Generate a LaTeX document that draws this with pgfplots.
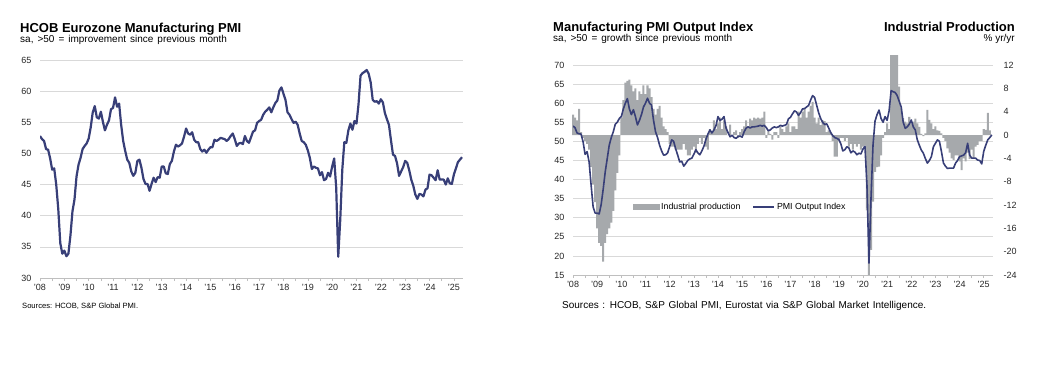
\documentclass[border=0pt]{standalone}
\usepackage{pgfplots}
\pgfplotsset{compat=1.18}
\usepackage{pgfplotstable}
\usepackage{fontspec}
\setmainfont{Liberation Sans}
\definecolor{navy}{HTML}{383F78}
\definecolor{bargray}{HTML}{A6A9AC}
\definecolor{gridgray}{HTML}{D9D9D9}
\definecolor{axgray}{HTML}{BFBFBF}
\newcommand\fs[1]{\fontsize{#1}{#1}\selectfont}

% HCOB Eurozone Manufacturing PMI, Jan 2008 - May 2025
\pgfplotstableread[row sep=\\]{v\\
52.8\\52.3\\52.0\\50.7\\50.6\\49.2\\47.4\\47.6\\45.0\\41.1\\35.6\\33.9\\
34.4\\33.5\\33.9\\36.8\\40.7\\42.6\\46.3\\48.2\\49.3\\50.7\\51.2\\51.6\\
52.4\\54.2\\56.6\\57.6\\55.8\\55.6\\56.7\\55.1\\53.7\\54.6\\55.3\\57.1\\
57.3\\59.0\\57.5\\58.0\\54.6\\52.0\\50.4\\49.0\\48.5\\47.1\\46.4\\46.9\\
48.8\\49.0\\47.7\\45.9\\45.1\\45.1\\44.0\\45.1\\46.1\\45.4\\46.2\\46.1\\
47.9\\47.9\\46.8\\46.7\\48.3\\48.8\\50.3\\51.4\\51.1\\51.3\\51.6\\52.7\\
54.0\\53.2\\53.0\\53.4\\52.2\\51.8\\51.8\\50.7\\50.3\\50.6\\50.1\\50.6\\
51.0\\51.0\\52.2\\52.0\\52.2\\52.5\\52.4\\52.3\\52.0\\52.3\\52.8\\53.2\\
52.3\\51.2\\51.6\\51.7\\51.5\\52.8\\52.0\\51.7\\52.6\\53.5\\53.7\\54.9\\
55.2\\55.4\\56.2\\56.7\\57.0\\57.4\\56.6\\57.4\\58.1\\58.5\\60.1\\60.6\\
59.6\\58.6\\56.6\\56.2\\55.5\\54.9\\55.1\\54.6\\53.2\\52.0\\51.8\\51.4\\
50.5\\49.3\\47.5\\47.9\\47.7\\47.6\\46.5\\47.0\\45.7\\45.9\\46.9\\46.3\\
47.9\\49.2\\44.5\\33.4\\39.4\\47.4\\51.8\\51.7\\53.7\\54.8\\53.8\\55.2\\
54.8\\57.9\\62.5\\62.9\\63.1\\63.4\\62.8\\61.4\\58.6\\58.3\\58.4\\58.0\\
58.7\\58.2\\56.5\\55.5\\54.6\\52.1\\49.8\\49.6\\48.4\\46.4\\47.1\\47.8\\
48.8\\48.5\\47.3\\45.8\\44.8\\43.4\\42.7\\43.5\\43.4\\43.1\\44.2\\44.4\\
46.6\\46.5\\46.1\\45.7\\47.3\\45.8\\45.8\\45.8\\45.0\\46.0\\45.2\\45.1\\
46.6\\47.6\\48.6\\49.0\\49.4\\
}\pmiL

% Manufacturing PMI Output Index, Jan 2008 - May 2025
\pgfplotstableread[row sep=\\]{v\\
54.0\\53.6\\52.2\\52.0\\51.9\\49.9\\46.6\\47.3\\44.6\\38.5\\32.8\\31.2\\
31.2\\31.0\\33.5\\37.5\\42.0\\45.5\\49.0\\51.0\\52.5\\54.5\\55.0\\56.0\\
56.5\\58.5\\60.0\\61.2\\58.5\\57.0\\58.3\\56.5\\54.3\\55.5\\57.0\\59.0\\
60.0\\61.3\\60.0\\59.5\\55.5\\52.5\\51.0\\49.0\\47.5\\46.4\\46.5\\47.0\\
48.6\\50.4\\50.0\\48.0\\46.4\\44.6\\44.8\\43.5\\44.2\\45.0\\45.4\\45.6\\
46.6\\47.8\\47.0\\46.5\\47.5\\48.7\\50.5\\51.9\\53.0\\52.2\\53.0\\54.1\\
56.5\\55.5\\55.8\\56.5\\53.5\\52.3\\51.2\\51.6\\51.0\\50.8\\51.3\\51.4\\
51.1\\52.5\\53.5\\53.8\\53.5\\53.8\\53.8\\53.9\\54.0\\54.2\\54.0\\54.2\\
53.6\\52.8\\53.0\\53.5\\53.8\\53.6\\53.8\\54.2\\54.0\\54.2\\54.4\\55.9\\
56.3\\57.2\\58.0\\57.7\\56.8\\57.5\\58.5\\58.6\\59.0\\59.4\\60.8\\62.0\\
61.5\\59.5\\57.5\\56.0\\55.0\\54.4\\54.6\\53.5\\52.3\\51.5\\51.0\\50.8\\
50.5\\49.4\\47.5\\47.8\\48.6\\48.3\\47.0\\47.5\\47.2\\46.5\\46.9\\46.7\\
48.0\\48.7\\38.5\\18.1\\35.0\\49.0\\55.3\\57.0\\58.2\\56.0\\55.0\\56.5\\
55.5\\58.0\\63.3\\63.0\\62.8\\62.0\\60.5\\59.0\\55.0\\53.4\\53.8\\54.5\\
55.6\\53.8\\53.0\\50.4\\49.0\\47.7\\46.9\\45.5\\44.3\\45.0\\46.0\\48.6\\
49.5\\50.4\\50.0\\47.3\\44.3\\43.5\\42.9\\43.0\\43.0\\43.0\\44.3\\45.0\\
46.0\\46.2\\46.4\\47.0\\49.5\\46.4\\45.6\\45.6\\45.6\\45.1\\45.0\\44.1\\
47.4\\49.0\\50.4\\51.0\\51.7\\
}\pmiR

% Industrial production, % yr/yr, Jan 2008 - Apr 2025
\pgfplotstableread[row sep=\\]{v\\
3.5\\3.0\\2.5\\4.5\\0.5\\-0.5\\-1.0\\-1.5\\-2.5\\-5.5\\-8.5\\-11.5\\
-16.0\\-18.5\\-19.0\\-21.7\\-18.5\\-17.0\\-16.0\\-15.0\\-13.0\\-9.5\\-6.5\\-3.5\\
3.0\\6.0\\9.0\\9.3\\9.5\\8.5\\7.5\\8.0\\6.0\\7.5\\7.0\\8.5\\
7.0\\8.5\\8.0\\6.5\\4.5\\3.5\\4.5\\5.0\\3.0\\1.5\\1.0\\0.5\\
-1.5\\-2.0\\-2.0\\-2.5\\-2.5\\-2.5\\-2.5\\-1.5\\-2.5\\-3.5\\-3.5\\-2.5\\
-2.0\\-3.0\\-1.5\\-0.5\\-1.5\\-0.5\\-2.0\\-2.5\\1.0\\0.5\\2.5\\1.0\\
2.0\\3.0\\1.0\\2.5\\1.5\\0.0\\1.8\\0.0\\0.5\\0.8\\-0.5\\0.5\\
1.0\\1.5\\2.5\\1.5\\2.8\\2.5\\3.0\\2.8\\3.0\\2.8\\3.0\\4.0\\
-0.5\\0.8\\0.2\\-0.8\\0.5\\0.5\\-0.5\\1.5\\1.0\\0.5\\1.5\\2.0\\
0.5\\1.5\\1.5\\1.0\\4.0\\3.0\\4.0\\4.5\\3.0\\4.0\\5.0\\5.7\\
3.0\\2.0\\3.0\\1.7\\2.5\\2.4\\0.5\\0.8\\0.5\\-1.0\\-3.7\\-3.7\\
-1.0\\-0.5\\-0.5\\-1.0\\-0.5\\-2.0\\-1.5\\-2.5\\-1.5\\-2.0\\-1.5\\-2.5\\
-2.0\\-1.8\\-12.9\\-24.0\\-19.7\\-11.4\\-6.3\\-5.5\\-5.4\\-3.5\\-0.5\\0.5\\
2.0\\1.0\\13.7\\13.7\\13.7\\13.7\\8.3\\4.6\\2.9\\2.3\\2.0\\3.1\\
2.0\\2.3\\2.8\\2.0\\1.4\\0.2\\-0.2\\0.3\\4.3\\2.6\\2.0\\1.0\\
1.5\\0.8\\0.7\\0.3\\-0.5\\-1.0\\-2.3\\-3.0\\-4.0\\-4.3\\-3.5\\-3.5\\
-4.5\\-6.0\\-4.0\\-4.5\\-3.0\\-4.1\\-2.5\\-4.0\\-2.0\\-1.7\\-1.0\\-1.0\\
1.0\\0.9\\3.8\\0.8\\
}\ipT

\pgfplotsset{
  base/.style={
    scale only axis, anchor=south west, xmin=0,
    axis x line*=bottom, axis y line*=left,
    x axis line style={axgray, line width=0.6pt},
    y axis line style={draw=none},
    xtick={0,12,...,204},
    xticklabels={'08,'09,'10,'11,'12,'13,'14,'15,'16,'17,'18,'19,'20,'21,'22,'23,'24,'25},
    minor xtick={6,18,...,198},
    tick align=outside, major tick length=3pt, minor tick length=3pt,
    xtick style={axgray, line width=0.5pt},
    ytick style={draw=none},
    ymajorgrids, grid style={gridgray, line width=0.7pt},
    tick label style={font=\fs{9}, text=black!85},
    yticklabel style={xshift=-2pt},
    /pgf/number format/assume math mode=true,
  },
}

\begin{document}
\begin{tikzpicture}
\path[use as bounding box] (0,0) rectangle (1047pt,-375pt);

% ---------- left chart ----------
\node[anchor=base west, inner sep=0, font=\fs{13}\bfseries] at (20pt,-32pt) {HCOB Eurozone Manufacturing PMI};
\node[anchor=base west, inner sep=0, font=\fs{10}] at (20pt,-42.5pt) {\spaceskip=4pt sa, >50 = improvement since previous month};
\node[anchor=base west, inner sep=0, font=\fs{7.6}] at (22pt,-308pt) {Sources: HCOB, S\&P Global PMI.};

\begin{axis}[base, at={(40pt,-278pt)}, width=423pt, height=218pt,
  xmax=208.5, ymin=30, ymax=65, ytick={30,35,...,65}]
\addplot[navy, line width=2.2pt, line join=round] table[x expr=\coordindex, y=v] {\pmiL};
\end{axis}

% ---------- right chart ----------
\node[anchor=base west, inner sep=0, font=\fs{13}\bfseries] at (553pt,-31.5pt) {Manufacturing PMI Output Index};
\node[anchor=base west, inner sep=0, font=\fs{10}] at (553pt,-41pt) {\spaceskip=4pt sa, >50 = growth since previous month};
\node[anchor=base east, inner sep=0, font=\fs{13}\bfseries] at (1015pt,-31.5pt) {Industrial Production};
\node[anchor=base east, inner sep=0, font=\fs{10}] at (1015pt,-41pt) {\% yr/yr};
\node[anchor=base west, inner sep=0, font=\fs{10}] at (562pt,-308pt) {\spaceskip=3.6pt Sources : HCOB, S\&P Global PMI, Eurostat via S\&P Global Market Intelligence.};

\begin{axis}[base, at={(573pt,-275pt)}, width=420pt, height=210pt,
  xmax=208.6, ymin=15, ymax=70, ytick={15,20,...,70}]
\end{axis}

\begin{axis}[scale only axis, anchor=south west, at={(573pt,-275pt)}, width=420pt, height=210pt,
  xmin=0, xmax=208.6, ymin=-24, ymax=12, clip=false,
  axis x line=none, xtick=\empty,
  axis y line*=right, y axis line style={draw=none},
  ytick={-24,-20,...,12}, ytick style={draw=none}, major tick length=3pt, tick align=outside,
  yticklabel style={font=\fs{9}, text=black!85, xshift=4pt},
  /pgf/number format/assume math mode=true,
  ybar, bar width=1.0]
\addplot[fill=bargray, draw=none] table[x expr=\coordindex, y=v] {\ipT};
\end{axis}

\begin{axis}[scale only axis, anchor=south west, at={(573pt,-275pt)}, width=420pt, height=210pt,
  xmin=0, xmax=208.6, ymin=15, ymax=70, hide axis,
  legend columns=2,
  legend style={at={(0.398,0.324)}, anchor=center, draw=none, fill=none,
    font=\fs{8.8}, /tikz/every even column/.append style={column sep=10pt}}]
\addlegendimage{legend image code/.code={\fill[bargray] (0pt,-2.5pt) rectangle (26pt,2.5pt);}}
\addlegendentry{Industrial production}
\addplot[navy, line width=1.6pt, line join=round,
  legend image code/.code={\draw[navy, line width=1.6pt] (0pt,0pt) -- (21pt,0pt);}]
  table[x expr=\coordindex, y=v] {\pmiR};
\addlegendentry{PMI Output Index}
\end{axis}
\end{tikzpicture}
\end{document}
